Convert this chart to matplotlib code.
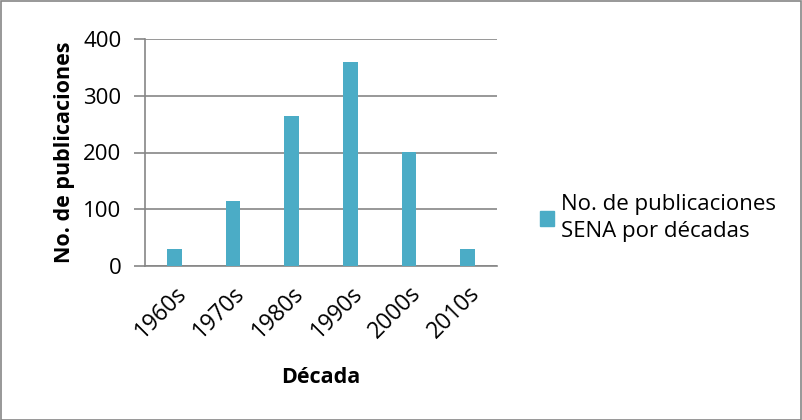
import matplotlib
matplotlib.use("Agg")
import matplotlib.pyplot as plt
from matplotlib.patches import Rectangle, Patch

decadas = ["1960s", "1970s", "1980s", "1990s", "2000s", "2010s"]
publicaciones = [30, 115, 265, 359, 201, 30]

BAR, GRID, INK = "#4BACC6", "#868686", "#000000"
plt.rcParams["font.family"] = ["Open Sans", "DejaVu Sans"]

fig = plt.figure(figsize=(8.02, 4.20), dpi=100)
W, H = 802, 420
ax = fig.add_axes([145 / W, 1 - 266 / H, (497 - 145) / W, (266 - 39) / H])

x = range(len(decadas))
ax.bar(x, publicaciones, width=0.25, color=BAR, zorder=3)
ax.set_xlim(-0.5, len(decadas) - 0.5)
ax.set_ylim(0, 400)
ax.set_yticks([0, 100, 200, 300, 400])
ax.set_xticks(list(x))
ax.set_xticklabels(decadas, rotation=45, ha="right", va="top", rotation_mode="anchor")
ax.grid(axis="y", color=GRID, lw=1.2, zorder=0)
for s in ("top", "right"):
    ax.spines[s].set_visible(False)
for s in ("left", "bottom"):
    ax.spines[s].set_color(GRID)
    ax.spines[s].set_linewidth(1.2)
ax.tick_params(axis="y", length=8, width=1.2, color=GRID, labelsize=16, pad=9)
ax.tick_params(axis="x", length=0, labelsize=16.5, pad=11)

ax.set_ylabel("No. de publicaciones", fontsize=15.5, fontweight="bold", labelpad=6)
ax.set_xlabel("Década", fontsize=15.5, fontweight="bold", labelpad=17)

fig.legend(handles=[Patch(color=BAR, label="No. de publicaciones\nSENA por décadas")],
           loc="center left", bbox_to_anchor=(520 / W, 1 - 218 / H), frameon=False,
           fontsize=16, handlelength=0.65, handleheight=0.65, handletextpad=0.3)
for t in fig.legends[0].get_texts():
    t.set_linespacing(1.4)

fig.patches.append(Rectangle((0.5 / W, 0.5 / H), 1 - 1.5 / W, 1 - 1.5 / H,
                             transform=fig.transFigure, fill=False, edgecolor=GRID, lw=1.2))
fig.savefig("out.png", dpi=100, facecolor="white")
